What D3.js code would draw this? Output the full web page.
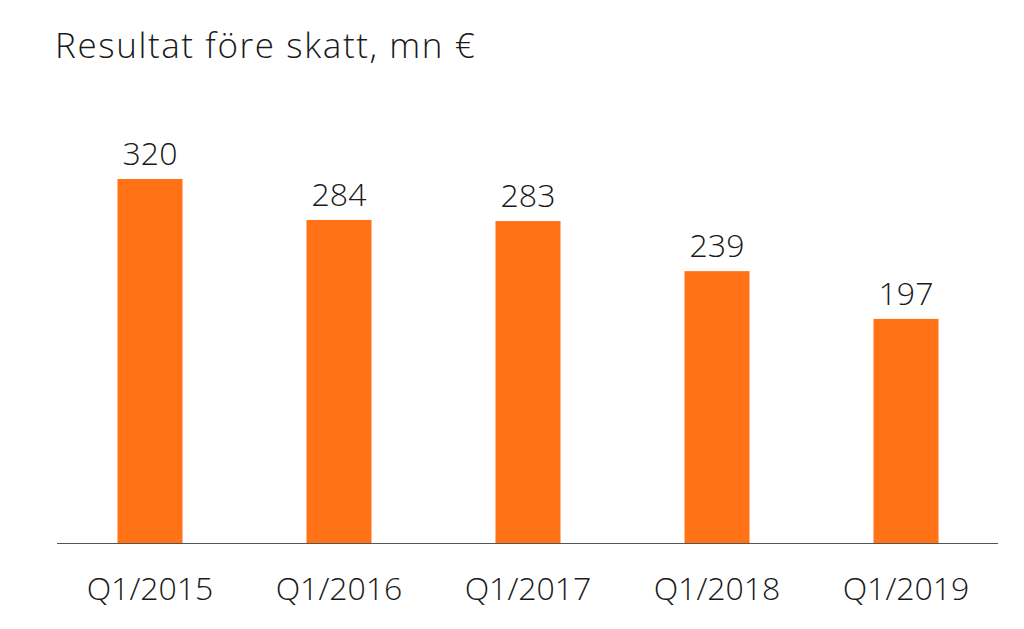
<!DOCTYPE html>
<html>
<head>
<meta charset="utf-8">
<script src="https://cdn.jsdelivr.net/npm/d3@7"></script>
<style>
  body { margin: 0; background: #fff; }
  text { font-family: "Open Sans", Lato, sans-serif; font-weight: 300; fill: #1a1a1a; }
</style>
</head>
<body>
<svg id="chart"></svg>
<script>
const quarters = ["Q1/2015", "Q1/2016", "Q1/2017", "Q1/2018", "Q1/2019"];
const profit = [320, 284, 283, 239, 197];
const title = "Resultat före skatt, mn €";

const width = 1024;
const height = 629;
const baseY = 543;

const svg = d3.select("#chart")
    .attr("width", width)
    .attr("height", height);

const x = d3.scaleBand()
    .domain(quarters)
    .range([55.5, 1000.5])
    .paddingInner(0.656)
    .paddingOuter(0.328);

// 320 -> 364px tall
const y = d3.scaleLinear()
    .domain([0, 350])
    .range([baseY, baseY - 350 * 1.1375]);

const data = quarters.map((q, i) => ({q, v: profit[i]}));

svg.append("text")
    .attr("x", 55)
    .attr("y", 58)
    .attr("font-size", 35)
    .attr("letter-spacing", 1.6)
    .text(title);

svg.selectAll("rect.bar").data(data).join("rect")
    .attr("class", "bar")
    .attr("x", d => x(d.q))
    .attr("y", d => y(d.v))
    .attr("width", x.bandwidth())
    .attr("height", d => y(0) - y(d.v))
    .attr("fill", "#ff7216");

svg.selectAll("text.val").data(data).join("text")
    .attr("class", "val")
    .attr("x", d => x(d.q) + x.bandwidth() / 2)
    .attr("y", d => y(d.v) - 14)
    .attr("text-anchor", "middle")
    .attr("font-size", 32)
    .text(d => d.v);

// baseline
svg.append("line")
    .attr("x1", 57).attr("x2", 998)
    .attr("y1", baseY + 0.5).attr("y2", baseY + 0.5)
    .attr("stroke", "#555")
    .attr("stroke-width", 1);

const xAxis = d3.axisBottom(x).tickSize(0).tickPadding(0);
const gx = svg.append("g")
    .attr("transform", `translate(0,${baseY})`)
    .call(xAxis);
gx.select(".domain").remove();
gx.selectAll("text")
    .attr("y", 57)
    .attr("dy", 0)
    .attr("font-size", 32)
    .attr("font-family", null)
    .style("font-family", "'Open Sans', Lato, sans-serif")
    .style("font-weight", 300)
    .attr("fill", "#1a1a1a");
</script>
</body>
</html>
